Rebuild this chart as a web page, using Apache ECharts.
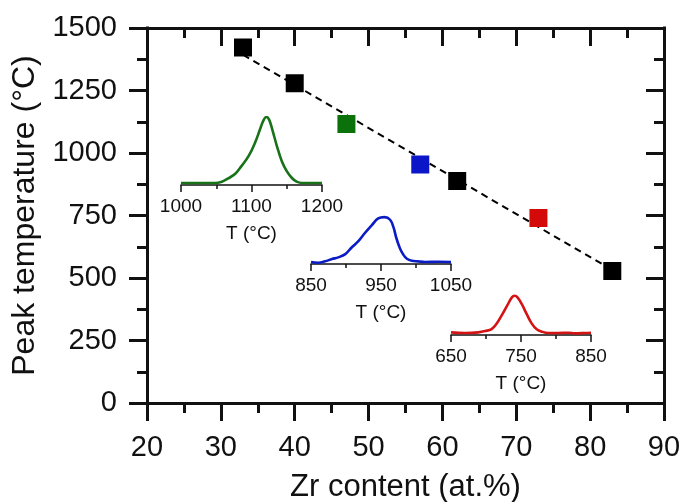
<!DOCTYPE html>
<html>
<head>
<meta charset="utf-8">
<script src="https://cdn.jsdelivr.net/npm/echarts@6/dist/echarts.min.js"></script>
<style>
  html, body { margin: 0; padding: 0; background: #ffffff; }
  #chart { width: 682px; height: 502px; }
</style>
</head>
<body>
<div id="chart"></div>
<script>
// Peak temperature versus Zr content, with DSC peak insets
const zrContent = [33, 40, 47, 57, 62, 73, 83];
const peakTemp = [1422, 1279, 1116, 954, 888, 740, 528];

// linear trend line end points
const fitZr = [33, 83];
const fitTemp = [1393, 532];

// DSC traces (temperature in °C, signal in arbitrary units)
const greenT = [1000, 1048, 1058, 1067, 1077, 1086, 1096, 1105, 1112, 1117, 1121, 1125, 1130, 1136, 1143, 1150, 1157, 1164, 1172, 1200];
const greenS = [0, 0, 0.02, 0.07, 0.14, 0.26, 0.41, 0.61, 0.81, 0.95, 1.0, 0.96, 0.79, 0.56, 0.33, 0.18, 0.08, 0.02, 0, 0];

const blueT = [850, 860, 870, 880, 889, 899, 908, 918, 927, 937, 946, 955, 963, 968, 972, 977, 982, 987, 994, 1003, 1013, 1032, 1050];
const blueS = [0, -0.01, 0.01, 0.045, 0.07, 0.12, 0.22, 0.32, 0.44, 0.56, 0.66, 0.68, 0.64, 0.52, 0.36, 0.21, 0.11, 0.05, 0.02, 0.01, 0, 0.005, 0];

const redT = [650, 670, 689, 699, 708, 715, 722, 730, 737, 741, 745, 751, 758, 765, 772, 780, 789, 803, 818, 827, 841, 850];
const redS = [0.01, 0, 0.01, 0.03, 0.06, 0.14, 0.26, 0.41, 0.54, 0.565, 0.54, 0.44, 0.29, 0.15, 0.06, 0.02, 0, 0, 0.005, -0.005, 0, 0.005];

const insetRanges = [[1000, 1200], [850, 1050], [650, 850]];

// styling
const FONT = 'Liberation Sans, Arial, Helvetica, sans-serif';
const INK = '#111111';
const markerColors = ['#000000', '#000000', '#0b720b', '#0a16c8', '#000000', '#d40a0a', '#000000'];
const traceColors = ['#187318', '#0c1cc4', '#d41414'];

const pairs = (xs, ys) => xs.map((x, i) => [x, ys[i]]);
const plain = (v) => String(v);

const mainAxisCommon = {
  min: 20, max: 90, interval: 10
};

function boxAxis(extra) {
  return Object.assign({
    gridIndex: 0,
    axisLine: { show: true, onZero: false, lineStyle: { color: INK, width: 3, cap: 'square' } },
    axisTick: { show: true, length: 18, lineStyle: { color: INK, width: 3 } },
    minorTick: { show: true, splitNumber: 2, length: 10, lineStyle: { color: INK, width: 3 } },
    splitLine: { show: false },
    minorSplitLine: { show: false }
  }, extra);
}

function insetXAxis(i) {
  return {
    type: 'value',
    gridIndex: i + 1,
    min: insetRanges[i][0],
    max: insetRanges[i][1],
    interval: 100,
    axisLine: { show: true, onZero: false, lineStyle: { color: INK, width: 1.5 } },
    axisTick: { show: true, length: 7, lineStyle: { color: INK, width: 1.5 } },
    minorTick: { show: true, splitNumber: 2, length: 4, lineStyle: { color: INK, width: 1.5 } },
    splitLine: { show: false },
    axisLabel: { fontSize: 19, fontFamily: FONT, color: INK, margin: 12, formatter: plain },
    name: 'T (°C)',
    nameLocation: 'middle',
    nameGap: 39,
    nameTextStyle: { fontSize: 19, fontFamily: FONT, color: INK }
  };
}

function insetYAxis(i) {
  return { type: 'value', gridIndex: i + 1, min: -0.03, max: 1.0, show: false };
}

const chart = echarts.init(document.getElementById('chart'), null, { renderer: 'canvas' });

chart.setOption({
  backgroundColor: '#ffffff',
  animation: false,
  grid: [
    { left: 147, top: 28, width: 517, height: 375, outerBoundsMode: 'none' },
    { left: 181, top: 117, width: 141, height: 68, outerBoundsMode: 'none' },
    { left: 311, top: 196, width: 140, height: 68, outerBoundsMode: 'none' },
    { left: 451, top: 267, width: 140, height: 68, outerBoundsMode: 'none' }
  ],
  xAxis: [
    boxAxis(Object.assign({}, mainAxisCommon, {
      type: 'value', position: 'bottom',
      axisTick: { show: true, inside: false, length: 18, lineStyle: { color: INK, width: 3 } },
      minorTick: { show: true, splitNumber: 2, length: 10, lineStyle: { color: INK, width: 3 } },
      axisLabel: { fontSize: 29, fontFamily: FONT, color: INK, margin: 30, formatter: plain },
      name: 'Zr content (at.%)',
      nameLocation: 'middle',
      nameGap: 69,
      nameTextStyle: { fontSize: 31, fontFamily: FONT, color: INK }
    })),
    boxAxis(Object.assign({}, mainAxisCommon, {
      type: 'value', position: 'top',
      axisTick: { show: true, inside: true, length: 18, lineStyle: { color: INK, width: 3 } },
      minorTick: { show: true, splitNumber: 2, length: 10, lineStyle: { color: INK, width: 3 } },
      axisLabel: { show: false }
    })),
    insetXAxis(0), insetXAxis(1), insetXAxis(2)
  ],
  yAxis: [
    boxAxis({
      type: 'value', position: 'left', min: 0, max: 1500, interval: 250,
      axisTick: { show: true, inside: false, length: 18, lineStyle: { color: INK, width: 3 } },
      axisLabel: { fontSize: 29, fontFamily: FONT, color: INK, margin: 30, formatter: plain },
      name: 'Peak temperature (°C)',
      nameLocation: 'middle',
      nameRotate: 90,
      nameGap: 102,
      nameTextStyle: { fontSize: 32, fontFamily: FONT, color: INK }
    }),
    boxAxis({
      type: 'value', position: 'right', min: 0, max: 1500, interval: 250,
      axisTick: { show: true, inside: true, length: 18, lineStyle: { color: INK, width: 3 } },
      axisLabel: { show: false }
    }),
    insetYAxis(0), insetYAxis(1), insetYAxis(2)
  ],
  series: [
    {
      type: 'line',
      xAxisIndex: 0, yAxisIndex: 0,
      data: pairs(fitZr, fitTemp),
      showSymbol: false,
      lineStyle: { color: '#000000', width: 2, type: [7, 5] },
      z: 2
    },
    {
      type: 'scatter',
      xAxisIndex: 0, yAxisIndex: 0,
      data: pairs(zrContent, peakTemp).map((p, i) => ({ value: p, itemStyle: { color: markerColors[i], opacity: 1 } })),
      symbol: 'rect',
      symbolSize: 18,
      itemStyle: { opacity: 1 },
      z: 5
    },
    {
      type: 'line', xAxisIndex: 2, yAxisIndex: 2,
      data: pairs(greenT, greenS), showSymbol: false, smooth: 0.4,
      lineStyle: { color: traceColors[0], width: 2.6 }
    },
    {
      type: 'line', xAxisIndex: 3, yAxisIndex: 3,
      data: pairs(blueT, blueS), showSymbol: false, smooth: 0.4,
      lineStyle: { color: traceColors[1], width: 2.6 }
    },
    {
      type: 'line', xAxisIndex: 4, yAxisIndex: 4,
      data: pairs(redT, redS), showSymbol: false, smooth: 0.4,
      lineStyle: { color: traceColors[2], width: 2.6 }
    }
  ]
});
</script>
</body>
</html>
